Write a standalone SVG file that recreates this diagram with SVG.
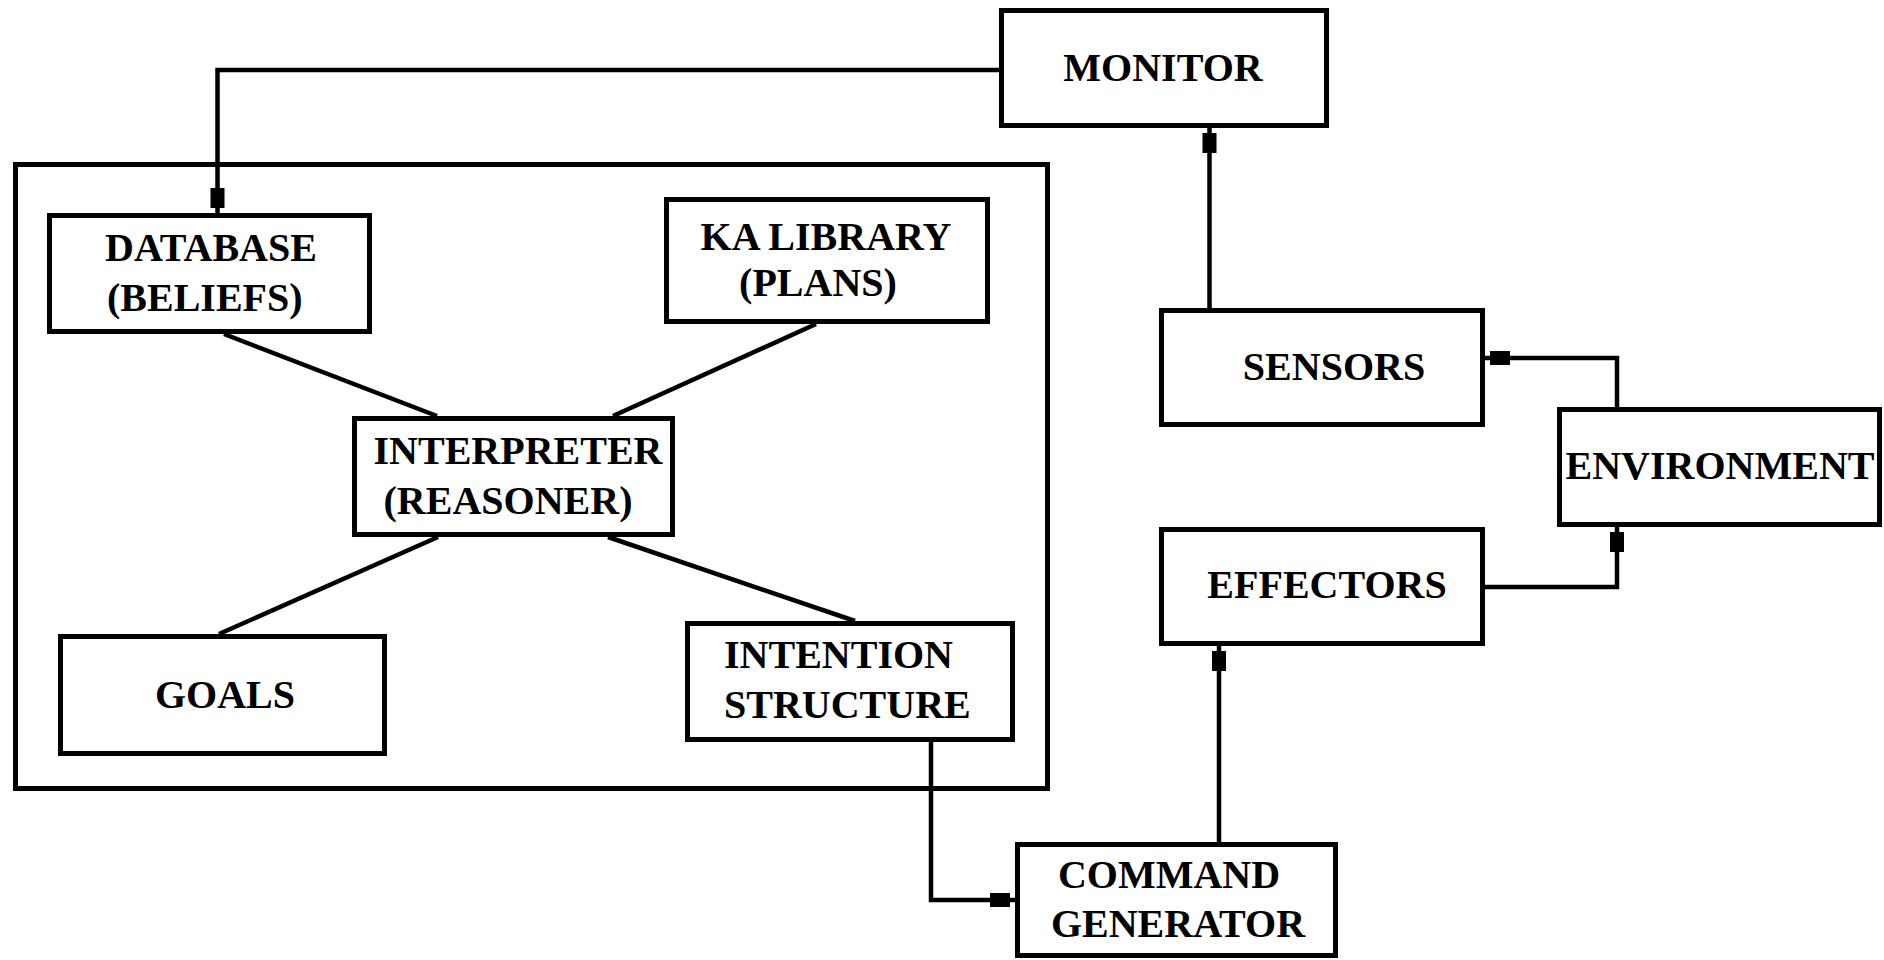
<svg xmlns="http://www.w3.org/2000/svg" width="1884" height="960" viewBox="0 0 1884 960">
<style>
.box{fill:#fff;stroke:#000;stroke-width:5}
.frame{fill:none;stroke:#000;stroke-width:5}
.t{font-family:"Liberation Serif","Times New Roman",serif;font-size:40px;font-weight:bold;fill:#000}
.c{text-anchor:middle}
.ln{fill:none;stroke:#000;stroke-width:4.5}
</style>
<defs>
<marker id="blk" markerUnits="userSpaceOnUse" viewBox="-27 -9 28 18" refX="0" refY="0" markerWidth="28" markerHeight="18" orient="auto">
<rect x="-25" y="-7" width="20" height="14" fill="#000"/>
</marker>
</defs>
<rect width="1884" height="960" fill="#fff"/>
<rect class="frame" x="15.5" y="164.5" width="1032" height="624"/>
<g id="connectors">
<path class="ln" d="M999 70 H217.5 V213" marker-end="url(#blk)"/>
<path class="ln" d="M1209.5 308 V128" marker-end="url(#blk)"/>
<path class="ln" d="M1617 407 V358 H1485" marker-end="url(#blk)"/>
<path class="ln" d="M1485 587 H1617 V527" marker-end="url(#blk)"/>
<path class="ln" d="M1219 842 V646" marker-end="url(#blk)"/>
<path class="ln" d="M931 742 V900 H1015" marker-end="url(#blk)"/>
<path class="ln" d="M224 334 L437 416"/>
<path class="ln" d="M816 324 L613 416"/>
<path class="ln" d="M438 537 L219 634"/>
<path class="ln" d="M608 537 L855 621"/>
</g>
<g id="monitor"><rect class="box" x="1001.5" y="10.5" width="325" height="115"/><text class="t c" x="1163" y="81">MONITOR</text></g>
<g id="database"><rect class="box" x="49.5" y="215.5" width="320" height="116"/><text class="t" x="105" y="261">DATABASE</text><text class="t" x="107" y="311">(BELIEFS)</text></g>
<g id="ka-library"><rect class="box" x="666.5" y="199.5" width="321" height="122"/><text class="t c" x="826" y="250">KA LIBRARY</text><text class="t c" x="818" y="296">(PLANS)</text></g>
<g id="interpreter"><rect class="box" x="354.5" y="418.5" width="318" height="116"/><text class="t c" x="518" y="464">INTERPRETER</text><text class="t c" x="508" y="514">(REASONER)</text></g>
<g id="goals"><rect class="box" x="60.5" y="636.5" width="324" height="117"/><text class="t c" x="225" y="708">GOALS</text></g>
<g id="intention"><rect class="box" x="687.5" y="623.5" width="325" height="116"/><text class="t" x="724" y="668">INTENTION</text><text class="t" x="724" y="718">STRUCTURE</text></g>
<g id="sensors"><rect class="box" x="1161.5" y="310.5" width="321" height="114"/><text class="t c" x="1334" y="380">SENSORS</text></g>
<g id="environment"><rect class="box" x="1559.5" y="409.5" width="320" height="115"/><text class="t c" x="1720" y="479">ENVIRONMENT</text></g>
<g id="effectors"><rect class="box" x="1161.5" y="529.5" width="321" height="114"/><text class="t c" x="1327" y="598">EFFECTORS</text></g>
<g id="command"><rect class="box" x="1017.5" y="844.5" width="318" height="111"/><text class="t c" x="1169" y="888">COMMAND</text><text class="t c" x="1178" y="937">GENERATOR</text></g>
</svg>
